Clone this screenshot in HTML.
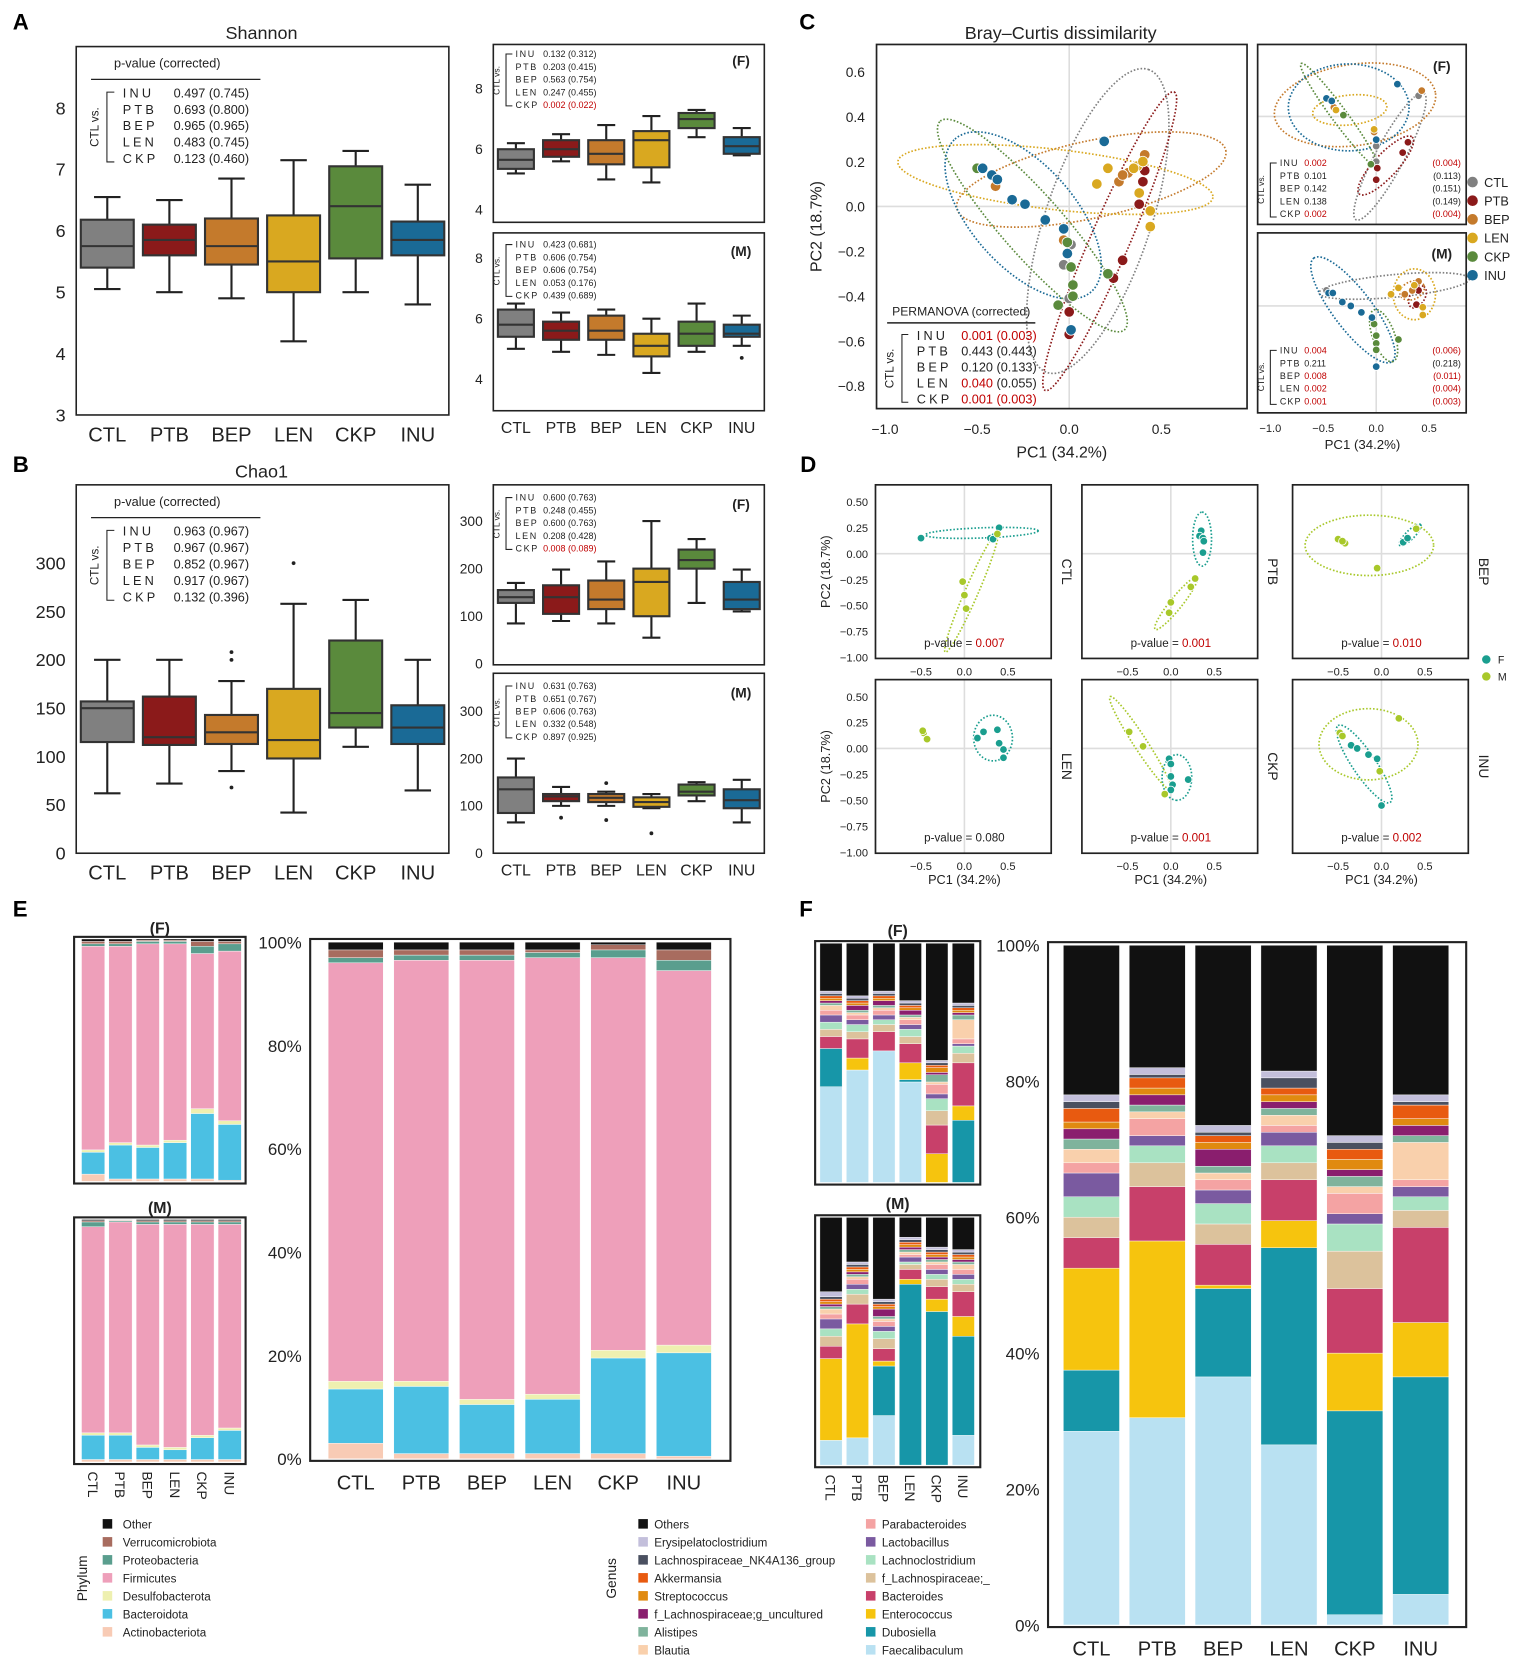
<!DOCTYPE html>
<html><head><meta charset="utf-8"><style>
html,body{margin:0;padding:0;background:#fff;}
svg{display:block;font-family:"Liberation Sans",Arial,sans-serif;}
</style></head><body>
<svg id="fig" width="1535" height="1662" viewBox="0 0 1450 1570" preserveAspectRatio="none" xmlns="http://www.w3.org/2000/svg"></svg>
<script>
// ===== DATA =====
const groups = ["CTL","PTB","BEP","LEN","CKP","INU"];
const groupColors = ["#808080","#8b1a1a","#c47a2c","#d9a820","#5a8a3c","#1a6a96"];
// box stats: [low whisker, q1, median, q3, high whisker]
const shannonAll = [[5.05,5.4,5.75,6.18,6.55],[5.0,5.6,5.85,6.1,6.5],[4.9,5.45,5.75,6.2,6.85],[4.2,5.0,5.5,6.25,7.15],[5.0,5.55,6.4,7.05,7.3],[4.8,5.6,5.85,6.15,6.75]];
const shannonF = [[5.2,5.35,5.65,6.0,6.2],[5.6,5.75,6.0,6.3,6.5],[5.0,5.5,5.85,6.3,6.8],[4.9,5.4,6.3,6.6,7.1],[6.4,6.7,7.0,7.2,7.3],[5.8,5.85,6.1,6.4,6.7]];
const shannonM = [[5.0,5.4,5.8,6.3,6.5],[4.9,5.3,5.6,5.9,6.2],[4.8,5.3,5.6,6.1,6.3],[4.2,4.75,5.1,5.5,6.0],[4.9,5.1,5.5,5.9,6.5],[5.1,5.4,5.5,5.8,6.1]];
const shannonMOut = [[],[],[],[],[],[4.7]];
const chaoAll = [[62,115,150,157,200],[72,112,120,162,200],[85,113,125,143,178],[42,98,117,170,258],[110,130,145,220,262],[65,113,130,153,200]];
const chaoAllOut = [[],[],[68,200,208],[300],[],[]];
const chaoF = [[85,128,140,155,170],[90,105,140,165,198],[85,115,135,175,215],[55,100,172,200,300],[128,200,218,240,262],[110,115,135,172,198]];
const chaoM = [[65,85,135,160,200],[100,110,120,125,140],[100,108,117,125,130],[95,98,108,118,125],[110,122,130,145,150],[65,95,112,135,155]];
const chaoMOut = [[],[75],[148,70],[42],[],[]];
const yTicksShannonMain = [3,4,5,6,7,8];
const yTicksShannonSmall = [4,6,8];
const yTicksChaoMain = [0,50,100,150,200,250,300];
const yTicksChaoSmall = [0,100,200,300];

// PCoA main (PC1, PC2) per group
const pcoaMain = [
 [[-0.03,-0.26],[0.0,-0.41],[0.01,-0.17]],
 [[0.41,0.16],[0.40,0.11],[0.38,0.01],[0.29,-0.24],[0.24,-0.32],[0.0,-0.47],[0.0,-0.57]],
 [[0.41,0.23],[0.27,0.11],[0.32,0.15],[0.29,0.14],[-0.40,0.09],[-0.03,-0.15]],
 [[0.21,0.17],[0.15,0.10],[0.37,0.18],[0.40,0.20],[0.38,0.06],[0.44,-0.02],[0.44,-0.09],[0.35,0.17]],
 [[-0.5,0.17],[-0.01,-0.16],[0.01,-0.27],[0.02,-0.35],[0.02,-0.40],[-0.06,-0.44],[0.21,-0.30]],
 [[-0.47,0.17],[-0.42,0.14],[-0.39,0.12],[-0.31,0.03],[-0.24,0.01],[-0.13,-0.06],[-0.03,-0.10],[-0.01,-0.21],[0.19,0.29],[0.01,-0.55]]
];
// ellipse: [centerX, centerY, endX, endY, minor/major ratio]
const ellMain = [[0.155,-0.065,0.43,0.61,0.33],[0.22,-0.155,0.57,0.51,0.12],[0.12,0.12,0.85,0.25,0.28],[-0.075,0.12,0.78,0.04,0.19],[-0.2,-0.085,-0.7,0.38,0.22],[-0.25,-0.04,-0.62,0.3,0.5]];
const pcoaF = [
 [[0.4,0.16],[0,-0.23],[0,-0.35]],
 [[0.3,-0.2],[0.25,-0.28],[0.01,-0.4],[0,-0.49]],
 [[0.43,0.2],[-0.02,-0.12],[-0.4,0.07]],
 [[-0.38,0.05],[-0.02,-0.1]],
 [[-0.31,0.01],[-0.05,-0.37]],
 [[-0.47,0.14],[-0.42,0.12],[0.2,0.25],[0,-0.18]]
];
const ellF = [[0.13,-0.31,0.45,0.18,0.2],[0.09,-0.38,0.34,-0.16,0.3],[-0.2,0.09,0.56,0.18,0.5],[-0.25,0.05,0.1,0.08,0.4],[-0.35,0.01,-0.71,0.41,0.12],[-0.26,0.07,0.31,0.07,0.72]];
const pcoaM = [
 [[-0.47,0.12]],
 [[0.4,0.12],[0.38,0.01]],
 [[0.27,0.09],[0.4,0.19],[0.34,0.12]],
 [[0.21,0.14],[0.14,0.09],[0.36,0.16],[0.44,-0.01],[0.44,-0.07]],
 [[-0.02,-0.14],[0,-0.23],[0,-0.29],[0,-0.34],[0.21,-0.26]],
 [[-0.45,0.1],[-0.41,0.1],[-0.32,0.03],[-0.24,0.0],[-0.14,-0.05],[-0.04,-0.09],[0,-0.47]]
];
const ellM = [[0.17,0.155,0.88,0.21,0.15],[0.39,0.07,0.45,0.15,0.6],[0.34,0.12,0.45,0.16,0.7],[0.36,0.09,0.56,0.09,1.2],[0.07,-0.23,0.16,-0.43,0.4],[-0.22,-0.03,-0.59,0.37,0.3]];
const permNames = ["INU","PTB","BEP","LEN","CKP"];
const permMain = [["0.001","0.003",1,1],["0.443","0.443",0,0],["0.120","0.133",0,0],["0.040","0.055",1,0],["0.001","0.003",1,1]];
const permF = [["0.002","0.004",1,1],["0.101","0.113",0,0],["0.142","0.151",0,0],["0.138","0.149",0,0],["0.002","0.004",1,1]];
const permM = [["0.004","0.006",1,1],["0.211","0.218",0,0],["0.008","0.011",1,1],["0.002","0.004",1,1],["0.001","0.003",1,1]];
const shanMainP = [["0.497","0.745"],["0.693","0.800"],["0.965","0.965"],["0.483","0.745"],["0.123","0.460"]];
const shanFP = [["0.132","0.312",0],["0.203","0.415",0],["0.563","0.754",0],["0.247","0.455",0],["0.002","0.022",1]];
const shanMP = [["0.423","0.681",0],["0.606","0.754",0],["0.606","0.754",0],["0.053","0.176",0],["0.439","0.689",0]];
const chaoMainP = [["0.963","0.967"],["0.967","0.967"],["0.852","0.967"],["0.917","0.967"],["0.132","0.396"]];
const chaoFP = [["0.600","0.763",0],["0.248","0.455",0],["0.600","0.763",0],["0.208","0.428",0],["0.008","0.089",1]];
const chaoMP = [["0.631","0.763",0],["0.651","0.767",0],["0.606","0.763",0],["0.332","0.548",0],["0.897","0.925",0]];

// Panel D: sex-split PCoA per treatment
const dF = [
 [[-0.5,0.15],[0.4,0.25],[0.3,0.15],[0.35,0.17],[0.33,0.14]],
 [[0.35,0.22],[0.33,0.17],[0.37,0.15],[0.37,0.01],[0.38,0.12]],
 [[0.25,0.11],[0.3,0.15],[0.4,0.24]],
 [[0.15,0.1],[0.22,0.16],[0.38,0.18],[0.4,0.05],[0.45,-0.01],[0.45,-0.09]],
 [[-0.02,-0.1],[0.0,-0.15],[0.0,-0.27],[0.02,-0.35],[0.0,-0.4],[0.2,-0.3]],
 [[-0.35,0.03],[-0.28,0.0],[-0.15,-0.06],[-0.05,-0.1],[0.0,-0.55],[-0.45,0.13]]
];
const dM = [
 [[-0.02,-0.27],[0.0,-0.4],[0.02,-0.53],[0.38,0.19]],
 [[0.28,-0.24],[0.23,-0.32],[0.0,-0.47],[-0.02,-0.57]],
 [[-0.5,0.14],[-0.42,0.1],[-0.45,0.12],[0.4,0.24],[-0.05,-0.14]],
 [[-0.47,0.15],[-0.43,0.09],[-0.48,0.17]],
 [[-0.48,0.16],[-0.32,0.02],[-0.07,-0.44]],
 [[-0.48,0.15],[-0.45,0.12],[0.2,0.29],[-0.02,-0.22]]
];
const dEllF = [[0.2,0.2,0.85,0.22,0.09],[0.36,0.14,0.36,0.4,0.35],[0.33,0.18,0.45,0.28,0.3],[0.33,0.1,0.33,0.32,0.85],[0.07,-0.28,0.07,-0.5,0.65],[-0.2,-0.15,-0.5,0.22,0.25]];
const dEllM = [[0.08,-0.375,0.38,0.2,0.1],[0.06,-0.48,0.3,-0.23,0.18],[-0.14,0.08,0.6,0.08,0.47],null,[-0.35,0.05,-0.7,0.5,0.12],[-0.15,0.04,0.42,0.04,0.72]];
const dP = ["0.007","0.001","0.010","0.080","0.001","0.002"];
const dPsig = [1,1,1,0,1,1];
const dXTicks = [-0.5,0.0,0.5];
const dYTicks = [0.5,0.25,0,-0.25,-0.5,-0.75,-1.0];
const cXTicks = [-1.0,-0.5,0.0,0.5];
const cYTicks = [0.6,0.4,0.2,0.0,-0.2,-0.4,-0.6,-0.8];

// Phylum (bottom-up); Other = remainder
const phyla = ["Actinobacteriota","Bacteroidota","Desulfobacterota","Firmicutes","Proteobacteria","Verrucomicrobiota","Other"];
const phylaColors = ["#f8cbb5","#4bc0e3","#eef0b0","#ee9fba","#5a9e8e","#a86c5f","#111111"];
const phylumAll = [[3,10.5,1.5,81,1,1.5],[1,13,1,81.5,1,1],[1,9.5,1,85,1,1],[1,10.5,1,84.5,1,0.5],[1,18.5,1.5,76,1.5,1],[0.5,20,1.5,72.5,2,2]];
const phylumF = [[3,9,1,84,1,1],[1,14,1,81,1,1],[1,13,1,83,1,0.5],[1,15,1,81,1,0.5],[1,27,2,64,3,2],[0.5,23,1.5,70,3,1]];
const phylumM = [[1,10,1,85,2,0.5],[1,10,1,87,0.5,0.3],[1,5,1,91,1,0.5],[1,4,1,92,1,0.5],[1,9,1,87,1,0.5],[1,12,1,84,1,0.5]];
const pctTicks = [0,20,40,60,80,100];

// Genus (bottom-up); Others = remainder
const genera = ["Faecalibaculum","Dubosiella","Enterococcus","Bacteroides","f_Lachnospiraceae;_","Lachnoclostridium","Lactobacillus","Parabacteroides","Blautia","Alistipes","f_Lachnospiraceae;g_uncultured","Streptococcus","Akkermansia","Lachnospiraceae_NK4A136_group","Erysipelatoclostridium","Others"];
const generaColors = ["#b9e1f2","#1796a8","#f6c40e","#c8406a","#dcc29c","#a9e2c2","#7a5aa0","#f4a3a3","#f9d0ac","#7fb39c","#8a1e6e","#e08a10","#e85a10","#4a5060","#c3bfdb","#111111"];
const genusAll = [
 [28.5,9,15,4.5,3,3,3.5,1.5,2,1.5,1.5,1,2,1,1],
 [30.5,0,26,8,3.5,2.5,1.5,2.5,1,1,1.5,1,1.5,0.5,1],
 [36.5,13,0.5,6,3,3,2,1.5,1,1,2.5,1,1,0.5,1],
 [26.5,29,4,6,2.5,2.5,2,1,1.5,1,1,1,1,1.5,1],
 [1.5,30,8.5,9.5,5.5,4,1.5,3,1,1.5,1,1.5,1.5,1,1],
 [4.5,32,8,14,2.5,2,1.5,1,5.5,1,1.5,1,2,0.5,1]
];
const genusF = [
 [40,16,0,5,3,3,3,2,2,1,1,1,1,1,1],
 [47,0,5,8,3,3,2,2,1,1,2,1,1,1,1],
 [55,0,0,8,3,2,2,2,1,1,2,1,1,1,1],
 [42,1,7,8,3,3,2,2,1,1,2,1,1,1,1],
 [0,0,12,12,6,5,2,4,1,3,1,2,1,1,1],
 [0,26,6,18,4,3,1,2,8,2,1,1,1,1,1]
];
const genusM = [
 [10,0,33,5,4,3,4,2,2,1,1,1,1,1,2],
 [11,0,46,8,4,2,2,2,1,1,1,1,1,1,1],
 [20,20,2,5,4,3,2,2,1,1,3,1,1,1,1],
 [0,73,2,4,2,1,2,1,1,1,1,1,1,1,1],
 [0,62,5,5,3,2,2,2,1,1,1,1,1,1,1],
 [12,40,8,10,3,2,2,2,2,1,1,1,1,1,1]
];

// ===== HELPERS =====
const svg = document.getElementById('fig');
const NS = "http://www.w3.org/2000/svg";
function mk(tag, attrs, parent){ const e=document.createElementNS(NS,tag); for(const k in attrs) e.setAttribute(k,attrs[k]); (parent||svg).appendChild(e); return e; }
function tx(x,y,s,size,parent,extra){ const a={x:x,y:y,'font-size':size,fill:'#222'}; if(extra) for(const k in extra) a[k]=extra[k]; const e=mk('text',a,parent); e.textContent=s; return e; }
function lin(d0,d1,r0,r1){ return v=>r0+(v-d0)*(r1-r0)/(d1-d0); }
function grp(name){ const g=mk('g',{});   return g; }

// panel letters
[["A",12,28],["B",12,446],["C",755,28],["D",756,446],["E",12,866],["F",755,866]].forEach(p=>{
  const t=tx(p[1],p[2],p[0],21,svg,{'font-weight':'bold',fill:'#000'});
  
  
});

// ===== BOXPLOTS =====
function boxplot(name, fr, dmin, dmax, data, outl, ticks, bw, fs, showX, tickFs){
  const g=grp(name);
  const y=lin(dmin,dmax,fr.y1,fr.y0);
  const n=groups.length, step=(fr.x1-fr.x0)/n;
  const fb=mk('rect',{x:fr.x0,y:fr.y0,width:fr.x1-fr.x0,height:fr.y1-fr.y0,fill:'none',stroke:'#222','stroke-width':1.5},g);
  
  
  ticks.forEach(t=>{ const e=tx(fr.x0-10,y(t)+tickFs*0.35,String(t),tickFs,g,{'text-anchor':'end'});
    
     });
  data.forEach((d,i)=>{
    const cx=fr.x0+step*(i+0.5);
    const bg=mk('g',{},g);
    
    
    const sw=fs>14?2:1.5;
    mk('line',{x1:cx,x2:cx,y1:y(d[0]),y2:y(d[1]),stroke:'#222','stroke-width':sw},bg);
    mk('line',{x1:cx,x2:cx,y1:y(d[3]),y2:y(d[4]),stroke:'#222','stroke-width':sw},bg);
    mk('line',{x1:cx-bw/4,x2:cx+bw/4,y1:y(d[0]),y2:y(d[0]),stroke:'#222','stroke-width':sw},bg);
    mk('line',{x1:cx-bw/4,x2:cx+bw/4,y1:y(d[4]),y2:y(d[4]),stroke:'#222','stroke-width':sw},bg);
    mk('rect',{x:cx-bw/2,y:y(d[3]),width:bw,height:y(d[1])-y(d[3]),fill:groupColors[i],stroke:'#333','stroke-width':sw},bg);
    mk('line',{x1:cx-bw/2,x2:cx+bw/2,y1:y(d[2]),y2:y(d[2]),stroke:'#333','stroke-width':sw},bg);
    (outl? outl[i]:[]).forEach(o=>{ mk('circle',{cx:cx,cy:y(o),r:1.8,fill:'#222'},bg); });
    if(showX){ const e=tx(cx,fr.y1+fs+6,groups[i],fs,g,{'text-anchor':'middle'});
      
       }
  });
  return g;
}
function pTableMain(g,x0,y0,title,rows){
  tx(x0+70,y0,title,12,g,{'text-anchor':'middle'});
  mk('line',{x1:x0-2,x2:x0+158,y1:y0+11,y2:y0+11,stroke:'#222','stroke-width':1.2},g);
  mk('path',{d:`M${x0+20} ${y0+23}H${x0+13}V${y0+89}H${x0+20}`,fill:'none',stroke:'#222','stroke-width':1},g);
  tx(x0+5,y0+56,'CTL vs.',11,g,{'text-anchor':'middle',transform:`rotate(-90 ${x0+5} ${y0+56})`});
  rows.forEach((r,i)=>{ const yy=y0+28+i*15.5;
    tx(x0+28,yy,permNames[i],12,g,{'letter-spacing':'3'});
    tx(x0+76,yy,r[0]+'  ('+r[1]+')',12,g,{'xml:space':'preserve'});
  });
}
function pTableSmall(g,x0,y0,rows,tag){
  mk('path',{d:`M${x0+16} ${y0-3}H${x0+10}V${y0+46}H${x0+16}`,fill:'none',stroke:'#222','stroke-width':1},g);
  tx(x0+4,y0+22,'CTL vs.',8,g,{'text-anchor':'middle',transform:`rotate(-90 ${x0+4} ${y0+22})`});
  rows.forEach((r,i)=>{ const yy=y0+i*12;
    tx(x0+19,yy,permNames[i],8.5,g,{'letter-spacing':'1.5'});
    const t=tx(x0+45,yy,'',8.5,g);
    const a=mk('tspan',{fill:r[2]?'#c00000':'#222'},t); a.textContent=r[0]+' ';
    const b=mk('tspan',{fill:r[2]?'#c00000':'#222'},t); b.textContent='('+r[1]+')';
  });
  tx(700,y0+8,tag,13,g,{'font-weight':'bold','text-anchor':'middle'});
}
// A
tx(247,37,'Shannon',17,svg,{'text-anchor':'middle'});
let g=boxplot('shannon-main-boxplot',{x0:72,x1:424,y0:44,y1:392},3,9,shannonAll,null,yTicksShannonMain,50,19,true,17);
pTableMain(g,88,64,'p-value (corrected)',shanMainP);
g=boxplot('shannon-female-boxplot',{x0:466,x1:722,y0:42,y1:210},3.58,9.47,shannonF,null,yTicksShannonSmall,34,15,false,13);
pTableSmall(g,468,54,shanFP,'(F)');
g=boxplot('shannon-male-boxplot',{x0:466,x1:722,y0:220,y1:388},2.95,8.84,shannonM,shannonMOut,yTicksShannonSmall,34,15,true,13);
pTableSmall(g,468,234,shanMP,'(M)');
// B
tx(247,451,'Chao1',17,svg,{'text-anchor':'middle'});
g=boxplot('chao1-main-boxplot',{x0:72,x1:424,y0:458,y1:806},0,381,chaoAll,chaoAllOut,yTicksChaoMain,50,19,true,17);
pTableMain(g,88,478,'p-value (corrected)',chaoMainP);
g=boxplot('chao1-female-boxplot',{x0:466,x1:722,y0:458,y1:628},-2,376,chaoF,null,yTicksChaoSmall,34,15,false,13);
pTableSmall(g,468,473,chaoFP,'(F)');
g=boxplot('chao1-male-boxplot',{x0:466,x1:722,y0:636,y1:806},0,380,chaoM,chaoMOut,yTicksChaoSmall,34,15,true,13);
pTableSmall(g,468,651,chaoMP,'(M)');

// ===== PCoA =====
function scatter(g,fr,ox,oy,sx,sy,pts,ells,colors,r){
  mk('line',{x1:fr.x0,x2:fr.x1,y1:oy,y2:oy,stroke:'#ddd','stroke-width':1.5},g);
  mk('line',{x1:ox,x2:ox,y1:fr.y0,y2:fr.y1,stroke:'#ddd','stroke-width':1.5},g);
  const X=v=>ox+v*sx, Y=v=>oy-v*sy;
  ells.forEach((e,i)=>{ if(!e) return;
    const cx=X(e[0]),cy=Y(e[1]),ex=X(e[2]),ey=Y(e[3]);
    const rx=Math.hypot(ex-cx,ey-cy), ang=Math.atan2(ey-cy,ex-cx)*180/Math.PI;
    const el=mk('ellipse',{cx:cx,cy:cy,rx:rx,ry:rx*e[4],transform:`rotate(${ang} ${cx} ${cy})`,fill:'none',stroke:colors[i],'stroke-width':1.6,'stroke-dasharray':'1.5 1.8'},g);
    
    
  });
  pts.forEach((ps,i)=>ps.forEach(p=>{
    const c=mk('circle',{cx:X(p[0]),cy:Y(p[1]),r:r,fill:colors[i],stroke:'#fff','stroke-width':0.8},g);
    
    
  }));
  const f=mk('rect',{x:fr.x0,y:fr.y0,width:fr.x1-fr.x0,height:fr.y1-fr.y0,fill:'none',stroke:'#222','stroke-width':1.6},g);
  
  
}
tx(1002,37,'Bray–Curtis dissimilarity',17,svg,{'text-anchor':'middle'});
g=grp('pcoa-main');
scatter(g,{x0:828,x1:1178,y0:42,y1:386},1010,195,174,212,pcoaMain,ellMain,groupColors,5);
cXTicks.forEach(t=>{ const e=tx(1010+t*174,410,t.toFixed(1).replace('-','−'),13,g,{'text-anchor':'middle'});
   });
cYTicks.forEach(t=>{ const e=tx(817,195-t*212+5,t.toFixed(1).replace('-','−'),13,g,{'text-anchor':'end'});
   });
tx(1003,432,'PC1 (34.2%)',15,g,{'text-anchor':'middle'});
tx(776,214,'PC2 (18.7%)',15,g,{'text-anchor':'middle',transform:'rotate(-90 776 214)'});
// permanova table
(function(){
  const x0=838,y0=298;
  tx(908,y0,'PERMANOVA (corrected)',11.5,g,{'text-anchor':'middle'});
  mk('line',{x1:x0,x2:x0+140,y1:y0+7,y2:y0+7,stroke:'#222','stroke-width':1.5},g);
  mk('path',{d:`M${x0+20} ${y0+18}H${x0+14}V${y0+82}H${x0+20}`,fill:'none',stroke:'#222','stroke-width':1},g);
  tx(x0+6,y0+50,'CTL vs.',11,g,{'text-anchor':'middle',transform:`rotate(-90 ${x0+6} ${y0+50})`});
  permMain.forEach((r,i)=>{ const yy=y0+23+i*15;
    tx(x0+28,yy,permNames[i],12,g,{'letter-spacing':'3'});
    const t=tx(x0+70,yy,'',12,g);
    const a=mk('tspan',{fill:r[2]?'#c00000':'#222'},t); a.textContent=r[0]+' ';
    const b=mk('tspan',{fill:r[3]?'#c00000':'#222'},t); b.textContent='('+r[1]+')';
  });
})();
function smallPerm(g,x0,y0,rows,tag){
  mk('path',{d:`M${x0+14} ${y0-3}H${x0+8}V${y0+48}H${x0+14}`,fill:'none',stroke:'#222','stroke-width':1},g);
  tx(x0+2,y0+22,'CTL vs.',8,g,{'text-anchor':'middle',transform:`rotate(-90 ${x0+2} ${y0+22})`});
  rows.forEach((r,i)=>{ const yy=y0+i*12;
    tx(x0+17,yy,permNames[i],8.5,g,{'letter-spacing':'1'});
    tx(x0+40,yy,r[0],8.5,g,{fill:r[2]?'#c00000':'#222'});
    tx(1380,yy,'('+r[1]+')',8.5,g,{'text-anchor':'end',fill:r[3]?'#c00000':'#222'});
  });
  tx(1362,y0-90,tag,13,g,{'font-weight':'bold','text-anchor':'middle'});
}
g=grp('pcoa-female');
scatter(g,{x0:1188,x1:1385,y0:42,y1:212},1300,110,100,122,pcoaF,ellF,groupColors,3.6);
smallPerm(g,1192,157,permF,'(F)');
g=grp('pcoa-male');
scatter(g,{x0:1188,x1:1385,y0:220,y1:390},1300,289,100,122,pcoaM,ellM,groupColors,3.6);
smallPerm(g,1192,334,permM,'(M)');
cXTicks.forEach(t=>{ const e=tx(1300+t*100,408,t.toFixed(1).replace('-','−'),10.5,g,{'text-anchor':'middle'});
   });
tx(1287,424,'PC1 (34.2%)',12.5,g,{'text-anchor':'middle'});
// legend C
g=grp('group-legend');
groups.forEach((n,i)=>{ const yy=172+i*17.6;
  const c=mk('circle',{cx:1391,cy:yy,r:5,fill:groupColors[i]},g);
  
  
  tx(1402,yy+4.5,n,12,g);
});

// ===== PANEL D =====
const dCols=[827,1022,1221], dRows=[458,642], dColors=["#1a9e8f","#a8c82a"];
groups.forEach((n,i)=>{
  const col=i%3,row=Math.floor(i/3);
  const x0=dCols[col], y0=dRows[row];
  const gg=grp('sex-pcoa-'+n.toLowerCase());
  scatter(gg,{x0:x0,x1:x0+166,y0:y0,y1:y0+164},x0+84,y0+65,82,98,[dF[i],dM[i]],[dEllF[i],dEllM[i]],dColors,3.6);
  const t=tx(x0+84,y0+153,'p-value = ',11,gg,{'text-anchor':'middle'});
  const s=mk('tspan',{fill:dPsig[i]?'#c00000':'#222'},t); s.textContent=dP[i];
  tx(x0+176,y0+82,n,13,gg,{'text-anchor':'middle',transform:`rotate(90 ${x0+176} ${y0+82})`});
  dXTicks.forEach(v=>{ const e=tx(x0+84+v*82,y0+180,v.toFixed(1).replace('-','−'),10.5,gg,{'text-anchor':'middle'});
     });
  if(col===0){
    dYTicks.forEach(v=>{ const e=tx(x0-7,y0+65-v*98+4,v.toFixed(2).replace('-','−'),10.5,gg,{'text-anchor':'end'});
       });
    tx(x0-43,y0+82,'PC2 (18.7%)',12,gg,{'text-anchor':'middle',transform:`rotate(-90 ${x0-43} ${y0+82})`});
  }
  if(row===1) tx(x0+84,y0+193,'PC1 (34.2%)',12,gg,{'text-anchor':'middle'});
});
g=grp('sex-legend');
["F","M"].forEach((s,i)=>{ mk('circle',{cx:1404,cy:623+i*16,r:4,fill:dColors[i]},g); tx(1415,627+i*16,s,10,g); });

// ===== STACKED BARS =====
function stack(name,fr,y0p,y100p,c0,step,bw,data,colors,ticks,tickFs,labelMode){
  const g=grp(name);
  const y=lin(0,100,y0p,y100p);
  data.forEach((d,i)=>{
    const cx=c0+i*step; let acc=0;
    const bg=mk('g',{},g);
    
    
    const vals=d.concat([Math.max(0,100-d.reduce((a,b)=>a+b,0))]);
    vals.forEach((v,k)=>{ if(v<=0) return;
      const seg=mk('rect',{x:cx-bw/2,y:y(acc+v),width:bw,height:y(acc)-y(acc+v),fill:colors[k],stroke:'#fff','stroke-width':0.4},bg);
      
      
      acc+=v; });
    if(labelMode==='h'){ const e=tx(cx,fr.y1+27,groups[i],19,g,{'text-anchor':'middle'});
       }
    else if(labelMode==='v'){ const e=tx(cx-5,fr.y1+7,groups[i],13,g,{transform:`rotate(90 ${cx-5} ${fr.y1+7})`});
       }
  });
  const f=mk('rect',{x:fr.x0,y:fr.y0,width:fr.x1-fr.x0,height:fr.y1-fr.y0,fill:'none',stroke:'#222','stroke-width':2},g);
  
  
  if(ticks) ticks.forEach(t=>{ const e=tx(fr.x0-8,y(t)+6,t+'%',tickFs,g,{'text-anchor':'end'});
     });
  return g;
}
// E
stack('phylum-female-bars',{x0:70,x1:232,y0:885,y1:1118},1116,887,88,25.8,22,phylumF,phylaColors,null,0,null);
tx(151,882,'(F)',15,svg,{'font-weight':'bold','text-anchor':'middle'});
stack('phylum-male-bars',{x0:70,x1:232,y0:1150,y1:1383},1381,1152,88,25.8,22,phylumM,phylaColors,null,0,'v');
tx(151,1146,'(M)',15,svg,{'font-weight':'bold','text-anchor':'middle'});
stack('phylum-main-bars',{x0:293,x1:690,y0:887,y1:1380},1378,890,336,62,52,phylumAll,phylaColors,pctTicks,16,'h');
// F
stack('genus-female-bars',{x0:770,x1:926,y0:889,y1:1119},1117,891,785,25,21,genusF,generaColors,null,0,null);
tx(848,884,'(F)',15,svg,{'font-weight':'bold','text-anchor':'middle'});
stack('genus-male-bars',{x0:770,x1:926,y0:1148,y1:1386},1384,1150,785,25,21,genusM,generaColors,null,0,'v');
tx(848,1142,'(M)',15,svg,{'font-weight':'bold','text-anchor':'middle'});
stack('genus-main-bars',{x0:990,x1:1385,y0:890,y1:1537},1535,893,1031,62.2,53,genusAll,generaColors,pctTicks,16,'h');

// legends E/F
g=grp('phylum-legend');
for(let k=phyla.length-1,j=0;k>=0;k--,j++){ const yy=1440+j*17;
  const r=mk('rect',{x:97,y:yy-5,width:9,height:9,fill:phylaColors[k]},g);
  
  
  tx(116,yy+4,phyla[k],11,g); }
tx(82,1491,'Phylum',13,g,{'text-anchor':'middle',transform:'rotate(-90 82 1491)'});
g=grp('genus-legend');
for(let k=genera.length-1,j=0;k>=0;k--,j++){ const colI=j<8?0:1, rowI=j%8;
  const xx=colI?818:603, yy=1440+rowI*17;
  const r=mk('rect',{x:xx,y:yy-5,width:9,height:9,fill:generaColors[k]},g);
  
  
  tx(xx+15,yy+4,genera[k],11,g); }
tx(582,1491,'Genus',13,g,{'text-anchor':'middle',transform:'rotate(-90 582 1491)'});
</script>
</body></html>
